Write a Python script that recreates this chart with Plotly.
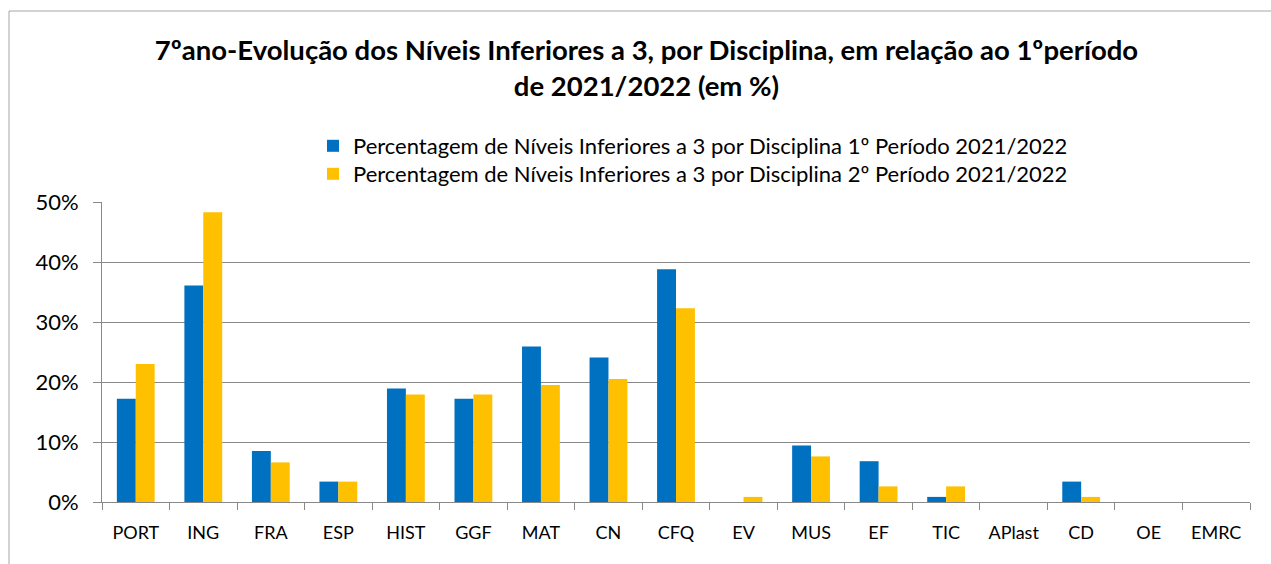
import plotly.graph_objects as go

categories = ["PORT", "ING", "FRA", "ESP", "HIST", "GGF", "MAT", "CN", "CFQ", "EV",
              "MUS", "EF", "TIC", "APlast", "CD", "OE", "EMRC"]
periodo1 = [17.2, 36.1, 8.5, 3.4, 18.9, 17.2, 25.9, 24.1, 38.8, 0.0,
            9.4, 6.8, 0.85, 0.0, 3.4, 0.0, 0.0]
periodo2 = [23.0, 48.3, 6.6, 3.4, 17.9, 17.9, 19.5, 20.5, 32.3, 0.85,
            7.6, 2.6, 2.6, 0.0, 0.85, 0.0, 0.0]
series_names = ["Percentagem de Níveis Inferiores a 3 por Disciplina 1º Período 2021/2022",
                "Percentagem de Níveis Inferiores a 3 por Disciplina 2º Período 2021/2022"]
title_text = "7ºano-Evolução dos Níveis Inferiores a 3, por Disciplina, em relação ao 1ºperíodo<br>de 2021/2022 (em %)"
y_ticks = [0, 10, 20, 30, 40, 50]
y_tick_labels = ["0%", "10%", "20%", "30%", "40%", "50%"]

W, H = 1271, 564
ML, MR, MT, MB = 102, 21, 202, 62
PW, PH = W - ML - MR, H - MT - MB

def px_x(p):
    return (p - ML) / PW

def px_y(p):
    return (H - MB - p) / PH

fig = go.Figure()
fig.add_trace(go.Bar(x=categories, y=periodo1, name=series_names[0], legend="legend",
                     marker=dict(color="#0070C0", line=dict(width=0))))
fig.add_trace(go.Bar(x=categories, y=periodo2, name=series_names[1], legend="legend2",
                     marker=dict(color="#FFC000", line=dict(width=0))))

font_family = "Lato, Calibri, Carlito, sans-serif"
legend_common = dict(x=px_x(313), xanchor="left", yanchor="middle", yref="paper",
                     font=dict(size=22, family=font_family),
                     bgcolor="rgba(0,0,0,0)", itemwidth=30)

fig.update_layout(
    width=W, height=H,
    margin=dict(l=ML, r=MR, t=MT, b=MB),
    paper_bgcolor="white", plot_bgcolor="white",
    barmode="group", bargap=0.44, bargroupgap=0,
    font=dict(family=font_family, color="black"),
    title=dict(text="<b>" + title_text + "</b>", x=(W / 2 + 11) / W, xanchor="center",
               y=1 - 60 / H, yanchor="middle",
               font=dict(size=27.5, family=font_family, color="black")),
    legend=dict(y=px_y(146), **legend_common),
    legend2=dict(y=px_y(174), **legend_common),
    showlegend=True,
    xaxis=dict(type="category", showline=True, linecolor="#898989", linewidth=1,
               ticks="outside", tickson="boundaries", ticklen=7, tickcolor="#898989",
               ticklabelstandoff=14,
               tickfont=dict(size=18, family=font_family), showgrid=False,
               fixedrange=True),
    yaxis=dict(range=[0, 50], tickvals=y_ticks, ticktext=y_tick_labels,
               showgrid=True, gridcolor="#898989", gridwidth=1,
               showline=True, linecolor="#898989", linewidth=1,
               ticks="outside", ticklen=8, tickcolor="#898989",
               ticklabelstandoff=10,
               tickfont=dict(size=22, family=font_family), zeroline=False),
)

# outer chart frame
fig.add_shape(type="rect", xref="paper", yref="paper",
              x0=px_x(9), x1=px_x(1290), y0=px_y(600), y1=px_y(11),
              line=dict(color="#A6A6A6", width=1), fillcolor="rgba(0,0,0,0)",
              layer="below")

fig.write_html("out.html", config={"displayModeBar": False},
               post_script="document.body.style.margin='0';")
